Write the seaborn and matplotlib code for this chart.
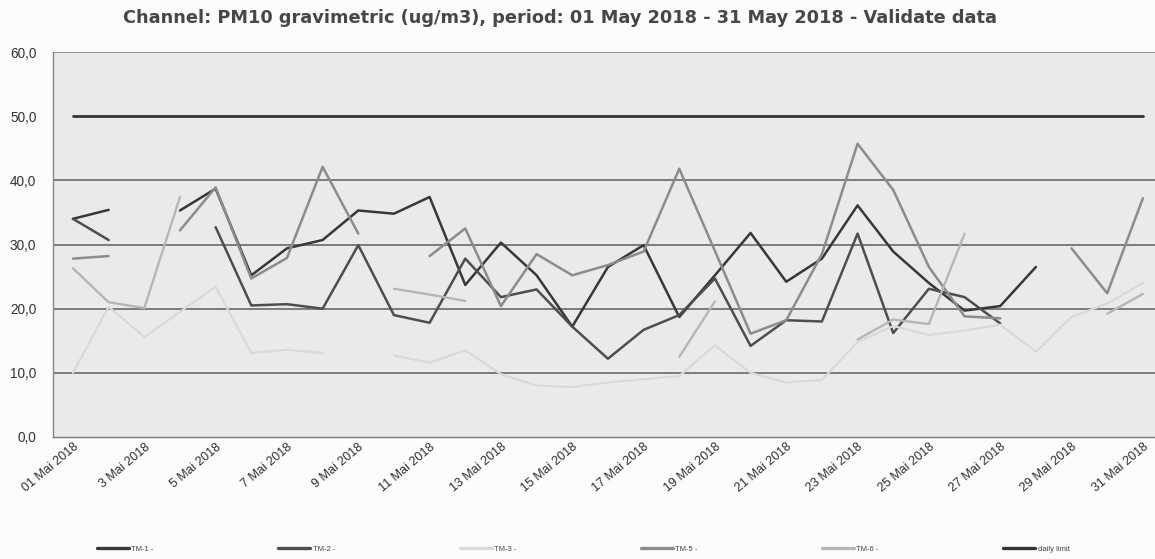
import numpy as np
import pandas as pd
import matplotlib
matplotlib.use("Agg")
import matplotlib.pyplot as plt
from matplotlib.lines import Line2D
import seaborn as sns

nan = np.nan
days = list(range(1, 32))
tick_days = list(range(1, 32, 2))
tick_labels = ["01 Mai 2018"] + [f"{d} Mai 2018" for d in range(3, 32, 2)]
y_ticks = [0, 10, 20, 30, 40, 50, 60]
y_labels = ["0,0", "10,0", "20,0", "30,0", "40,0", "50,0", "60,0"]

tm1 = [34.0, 35.4, nan, 35.3, 38.7, 25.2, 29.4, 30.7, 35.3, 34.8, 37.4, 23.7, 30.3, 25.2, 17.2, 26.5,
       29.9, 18.7, 25.2, 31.8, 24.2, 27.8, 36.1, 28.9, 24.0, 19.7, 20.4, 26.5, nan, nan, nan]
tm2 = [34.0, 30.7, nan, nan, 32.7, 20.5, 20.7, 20.0, 29.9, 19.0, 17.8, 27.8, 21.8, 23.0, 17.2, 12.2,
       16.7, 19.0, 24.7, 14.2, 18.2, 18.0, 31.7, 16.2, 23.1, 21.8, 17.7, nan, nan, nan, nan]
tm3 = [10.0, 20.3, 15.6, 19.5, 23.4, 13.1, 13.6, 13.1, nan, 12.7, 11.6, 13.5, 9.8, 8.0, 7.8, 8.5,
       9.0, 9.5, 14.3, 10.0, 8.5, 8.9, 14.8, 17.3, 15.9, 16.6, 17.5, 13.3, 18.7, 20.8, 24.0]
tm5 = [27.8, 28.2, nan, 32.2, 38.9, 24.7, 27.9, 42.1, 31.7, nan, 28.2, 32.5, 20.4, 28.5, 25.2, 26.8,
       28.9, 41.8, 29.0, 16.1, 18.2, 28.5, 45.7, 38.5, 26.5, 18.8, 18.5, nan, 29.4, 22.4, 37.2]
tm6 = [26.3, 21.0, 20.1, 37.4, nan, nan, nan, nan, nan, 23.1, 22.2, 21.2, nan, nan, nan, nan,
       nan, 12.5, 21.1, nan, nan, nan, 15.2, 18.3, 17.6, 31.7, nan, nan, nan, 19.2, 22.3]
daily_limit = [50.0] * 31

series_names = ["TM-1 -", "TM-2 -", "TM-3 -", "TM-5 -", "TM-6 -", "daily limit"]
series_values = [tm1, tm2, tm3, tm5, tm6, daily_limit]
colors = ["#383838", "#4e4e4e", "#d9d9d9", "#8c8c8c", "#b6b6b6", "#333333"]
widths = [1.8, 1.8, 1.6, 1.8, 1.7, 2.0]

# build long table with contiguous segment ids so gaps stay gaps
rows = []
for name, vals in zip(series_names, series_values):
    seg = 0
    prev_nan = True
    for d, v in zip(days, vals):
        if np.isnan(v):
            prev_nan = True
            continue
        if prev_nan:
            seg += 1
        prev_nan = False
        rows.append({"series": name, "day": d, "value": v, "seg": f"{name}_{seg}"})
df = pd.DataFrame(rows)

sns.set_style("white")
plt.rcParams["font.family"] = ["Liberation Sans", "DejaVu Sans"]

fig = plt.figure(figsize=(11.55, 5.59), dpi=100, facecolor="#fcfcfc")
ax = fig.add_axes([53 / 1155, 1 - 437 / 559, 1 - 53 / 1155, (437 - 52) / 559])
ax.set_facecolor("#eaeaea")

# gridlines
for g in [10, 20, 30, 40]:
    ax.axhline(g, color="#5e5e5e", lw=1.1, zorder=1)
ax.axhline(60, color="#7a7a7a", lw=1.1, zorder=1)

draw_order = ["TM-3 -", "TM-6 -", "TM-5 -", "TM-2 -", "TM-1 -", "daily limit"]
for name in draw_order:
    i = series_names.index(name)
    sub = df[df["series"] == name]
    sns.lineplot(data=sub, x="day", y="value", units="seg", estimator=None,
                 color=colors[i], lw=widths[i], ax=ax, legend=False, zorder=3 + i)

ax.set_xlim(0.44, 31.34)
ax.set_ylim(0, 60)
ax.set_yticks(y_ticks)
ax.set_yticklabels(y_labels, fontsize=9.8, color="#333333")
ax.set_xticks(tick_days)
ax.set_xticklabels(tick_labels, rotation=40, ha="right", va="top",
                   rotation_mode="anchor", fontsize=9.0, color="#2e2e2e")
ax.set_xticks([d + 0.5 for d in range(0, 31)], minor=True)
ax.tick_params(axis="x", which="major", length=0, pad=3)
ax.tick_params(axis="x", which="minor", length=4, color="#777777", direction="out")
ax.tick_params(axis="y", length=4, color="#777777", direction="out", pad=8)
ax.set_xlabel("")
ax.set_ylabel("")
for s in ["top", "right"]:
    ax.spines[s].set_visible(False)
ax.spines["left"].set_color("#888888")
ax.spines["bottom"].set_color("#777777")
ax.spines["left"].set_linewidth(1.0)
ax.spines["bottom"].set_linewidth(1.0)

fig.text(0.485, 1 - 18 / 559, "Channel: PM10 gravimetric (ug/m3), period: 01 May 2018 - 31 May 2018 - Validate data",
         ha="center", va="center", fontsize=12.8, fontweight="bold", color="#474747",
         family=["DejaVu Sans"])

handles = [Line2D([0], [0], color=c, lw=2.4) for c in colors]
fig.legend(handles, series_names, ncol=6, loc="center", bbox_to_anchor=(0.505, 1 - 549 / 559),
           frameon=False, fontsize=5.5, handlelength=4.2, handletextpad=0.3,
           columnspacing=16.3, labelcolor="#444444")

fig.savefig("out.png", dpi=100, facecolor=fig.get_facecolor())
